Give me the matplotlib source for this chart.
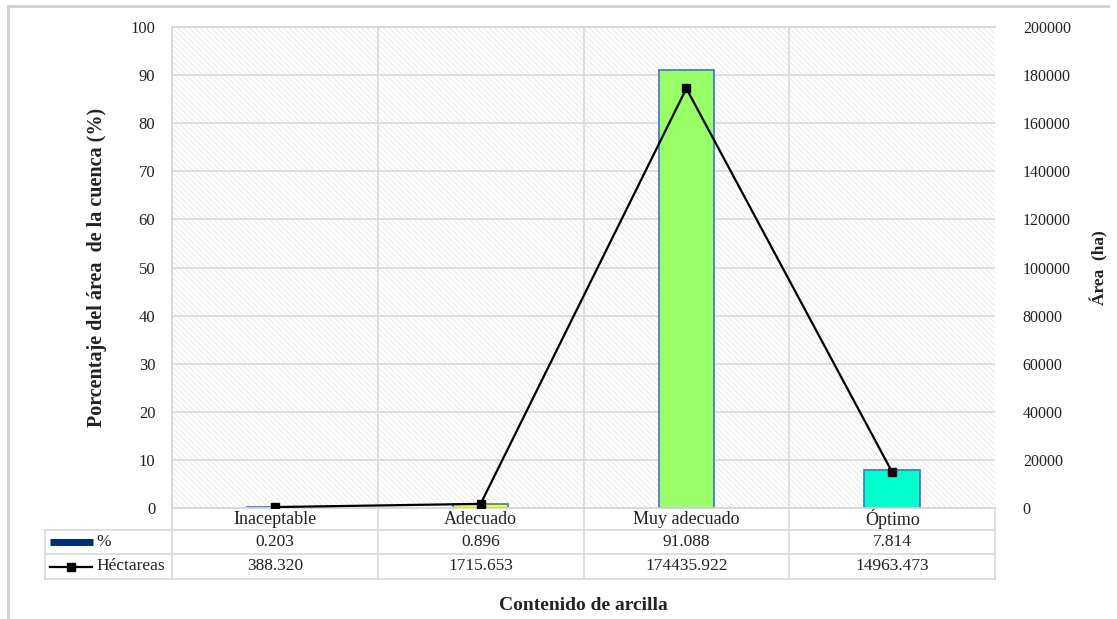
import matplotlib
matplotlib.use("Agg")
import matplotlib.pyplot as plt
from matplotlib.patches import Rectangle
from matplotlib.lines import Line2D
from matplotlib.transforms import blended_transform_factory

# Clay content classes and their share of the basin
categorias = ["Inaceptable", "Adecuado", "Muy adecuado", "Óptimo"]
porcentaje = [0.203, 0.896, 91.088, 7.814]
hectareas = [388.320, 1715.653, 174435.922, 14963.473]
etiquetas_pct = ["0.203", "0.896", "91.088", "7.814"]
etiquetas_ha = ["388.320", "1715.653", "174435.922", "14963.473"]
colores = ["#9DC3E6", "#FFFF00", "#99FF66", "#00FFCC"]

plt.rcParams["font.family"] = ["Liberation Serif", "DejaVu Serif"]
plt.rcParams["hatch.linewidth"] = 0.5
txt_c = "#222222"

W, H = 1117, 619
fig = plt.figure(figsize=(W / 100, H / 100), dpi=100)

# plot area in pixel terms
left, right, top, bottom = 172, 995, 27, 508
ax = fig.add_axes([left / W, 1 - bottom / H, (right - left) / W, (bottom - top) / H])
ax2 = ax.twinx()

grid_c = "#d9d9d9"
ax.set_facecolor("white")
ax.add_patch(Rectangle((0, 0), 1, 1, transform=ax.transAxes, facecolor="white",
                       edgecolor="#e2e2e2", hatch="\\\\\\\\\\\\", linewidth=0, zorder=0))

x = list(range(len(categorias)))
ax.set_xlim(-0.5, len(categorias) - 0.5)
ax.set_ylim(0, 100)
ax.set_yticks(range(0, 101, 10))
ax2.set_ylim(0, 200000)
ax2.set_yticks(range(0, 200001, 20000))

for v in range(10, 101, 10):
    ax.axhline(v, color=grid_c, lw=1.2, zorder=1)
for b in [0.5, 1.5, 2.5]:
    ax.axvline(b, color=grid_c, lw=1.2, zorder=1)

ax.bar(x, porcentaje, width=0.27, color=colores, edgecolor="#4472C4", linewidth=1.2, zorder=3)
ax2.plot(x, hectareas, color="black", lw=1.6, marker="s", markersize=6, zorder=4)

for a in (ax, ax2):
    for s in a.spines.values():
        s.set_color(grid_c)
        s.set_linewidth(1.2)
    a.tick_params(length=0, labelcolor=txt_c)
ax.spines["right"].set_visible(False)
ax2.spines["right"].set_visible(False)
ax.set_xticks([])
ax.tick_params(axis="y", pad=12, labelsize=12)
ax2.tick_params(axis="y", pad=20, labelsize=11.5)
for lab in ax2.get_yticklabels():
    lab.set_ha("left")

ax.set_ylabel("Porcentaje del área  de la cuenca (%)", fontsize=14.5, fontweight="bold",
              labelpad=17, color=txt_c)
ax2.set_ylabel("Área  (ha)", fontsize=12.5, fontweight="bold", rotation=90, labelpad=14, color=txt_c)

# data table under the axis
tr = blended_transform_factory(ax.transData, ax.transAxes)
ph = bottom - top
y_row = [0, -(530 - bottom) / ph, -(554 - bottom) / ph, -(579 - bottom) / ph]
x_lab = (45 - left) / (right - left)

for yv in y_row[1:]:
    ax.add_line(Line2D([x_lab, 1], [yv, yv], transform=ax.transAxes, color=grid_c, lw=1.2, clip_on=False))
for b in [-0.5, 0.5, 1.5, 2.5, 3.5]:
    ax.add_line(Line2D([b, b], [0, y_row[3]], transform=tr, color=grid_c, lw=1.2, clip_on=False))
ax.add_line(Line2D([x_lab, x_lab], [y_row[1], y_row[3]], transform=ax.transAxes, color=grid_c, lw=1.2, clip_on=False))

for xi, c, p, h in zip(x, categorias, etiquetas_pct, etiquetas_ha):
    ax.text(xi, (y_row[0] + y_row[1]) / 2, c, transform=tr, ha="center", va="center", fontsize=13, color=txt_c)
    ax.text(xi, (y_row[1] + y_row[2]) / 2, p, transform=tr, ha="center", va="center", fontsize=12.5, color=txt_c)
    ax.text(xi, (y_row[2] + y_row[3]) / 2, h, transform=tr, ha="center", va="center", fontsize=12.5, color=txt_c)

# legend keys in the row headers
def fx(px):
    return (px - left) / (right - left)

ym1 = (y_row[1] + y_row[2]) / 2
ym2 = (y_row[2] + y_row[3]) / 2
ax.add_line(Line2D([fx(50), fx(93)], [ym1, ym1], transform=ax.transAxes, color="#002D7A",
                   lw=5, solid_capstyle="butt", clip_on=False))
ax.text(fx(96), ym1, "%", transform=ax.transAxes, ha="left", va="center", fontsize=12.5, color=txt_c)
ax.add_line(Line2D([fx(50), fx(92)], [ym2, ym2], transform=ax.transAxes, color="black", lw=1.6, clip_on=False))
ax.add_line(Line2D([fx(71)], [ym2], transform=ax.transAxes, color="black", marker="s",
                   markersize=6, clip_on=False))
ax.text(fx(96), ym2, "Héctareas", transform=ax.transAxes, ha="left", va="center", fontsize=12.5, color=txt_c)

fig.text((left + right) / 2 / W, 1 - 605 / H, "Contenido de arcilla", ha="center", va="center",
         fontsize=14, fontweight="bold", color=txt_c)

# outer frame
fig.add_artist(Line2D([8 / W, 1108 / W], [1 - 6 / H, 1 - 6 / H], transform=fig.transFigure, color="#d0d0d0", lw=2))
fig.add_artist(Line2D([8 / W, 8 / W], [1 - 6 / H, 0], transform=fig.transFigure, color="#d0d0d0", lw=2))

fig.savefig("out.png", dpi=100)
